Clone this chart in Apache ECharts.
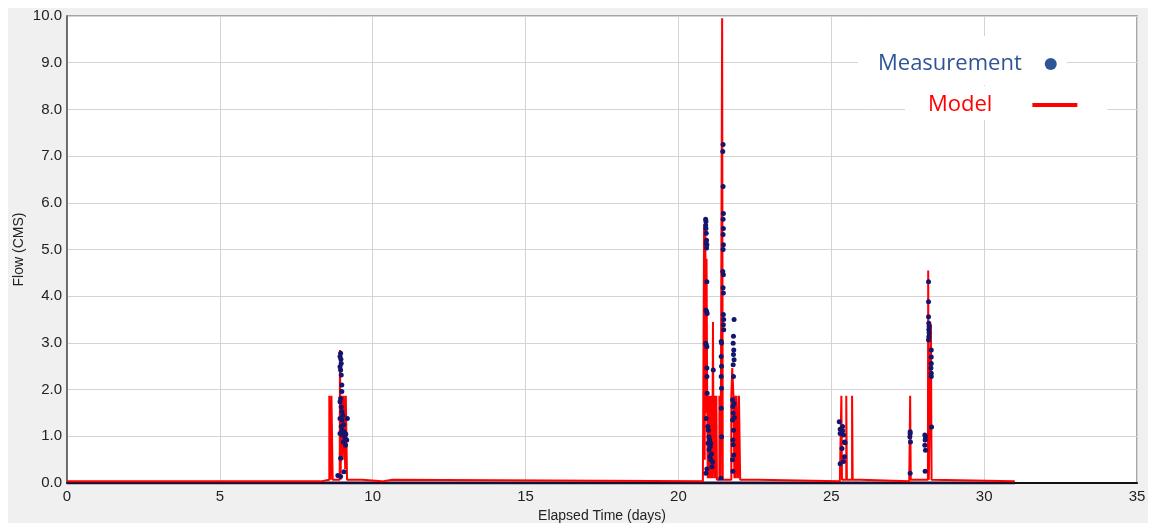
<!DOCTYPE html>
<html>
<head>
<meta charset="utf-8">
<script src="https://cdn.jsdelivr.net/npm/echarts@6/dist/echarts.min.js"></script>
<style>
  html, body { margin: 0; padding: 0; background: #ffffff; width: 1155px; height: 528px; overflow: hidden; }
  #chart { position: absolute; left: 8px; top: 8px; width: 1140px; height: 515px; }
</style>
</head>
<body>
<div id="chart"></div>
<script>
// ---------------- DATA ----------------
const seriesNames = ['Measurement', 'Model'];
const xAxisTitle = 'Elapsed Time (days)';
const yAxisTitle = 'Flow (CMS)';

// Measured flow (days, CMS)
const measT = [
  8.95, 8.93, 8.97, 8.93, 8.95, 8.97, 8.99, 8.95, 8.93, 8.97, 8.99, 8.93, 9.00, 9.17, 8.97, 9.00, 9.06, 8.93, 9.00, 9.08,
  9.15, 9.04, 9.11, 8.95, 9.06, 8.86, 8.95, 8.96, 8.99, 9.02, 9.05, 9.10, 9.12,
  20.89, 20.90, 20.89, 20.90, 20.91, 20.92, 20.91, 20.93, 20.92, 20.93, 20.90, 20.92, 20.94, 20.89, 20.91, 20.93, 20.93, 21.14,
  20.93, 20.94, 20.91, 20.96, 20.98, 21.00, 21.02, 20.97, 21.04, 21.00, 21.03, 21.06, 21.08, 20.90, 20.93, 21.10, 21.05, 21.12,
  21.46, 21.45, 21.46, 21.47, 21.46, 21.47, 21.46, 21.47, 21.46, 21.45, 21.47, 21.46, 21.47, 21.47, 21.48, 21.47, 21.48,
  21.40, 21.41, 21.40, 21.41, 21.40, 21.41, 21.40, 21.41, 21.39,
  21.82, 21.80, 21.79, 21.81, 21.80, 21.82, 21.79, 21.80, 21.77, 21.78, 21.79, 21.77, 21.80, 21.78, 21.79, 21.77, 21.78, 21.82, 21.83, 21.81,
  25.26, 25.37, 25.29, 25.37, 25.29, 25.40, 25.43, 25.45, 25.35, 25.43, 25.29, 25.40,
  27.58, 27.58, 27.57, 27.59, 27.58,
  28.06, 28.08, 28.07, 28.06, 28.08, 28.07,
  28.18, 28.18, 28.18, 28.19, 28.20, 28.19, 28.20, 28.19, 28.18, 28.27, 28.27, 28.27, 28.26, 28.27, 28.27, 28.28
];
const measQ = [
  2.78, 2.71, 2.56, 2.49, 2.42, 2.31, 1.96, 1.81, 1.74, 1.63, 1.53, 1.38, 1.35, 1.38, 1.21, 1.13, 1.10, 1.06, 1.03, 1.01,
  0.92, 0.88, 0.81, 0.53, 0.24, 0.16, 0.14, 2.65, 2.10, 1.45, 1.25, 0.95, 1.05,
  5.65, 5.60, 5.52, 5.45, 5.35, 5.20, 5.13, 5.10, 5.03, 4.31, 3.70, 3.67, 3.63, 2.99, 2.96, 2.92, 2.46, 2.42,
  2.28, 1.92, 1.38, 1.21, 1.13, 0.99, 0.92, 0.85, 0.78, 0.71, 0.56, 0.50, 0.62, 0.21, 0.30, 0.35, 0.85, 0.45,
  7.25, 7.10, 6.35, 5.77, 5.65, 5.45, 5.32, 5.10, 5.00, 4.53, 4.46, 4.18, 4.07, 3.61, 3.50, 3.39, 3.28,
  3.03, 3.00, 2.71, 2.50, 2.28, 2.03, 1.60, 0.99, 0.10,
  3.50, 3.14, 2.99, 2.85, 2.75, 2.64, 2.53, 2.28, 1.78, 1.64, 1.50, 1.35, 1.13, 0.92, 0.82, 0.50, 0.25, 1.70, 1.40, 0.60,
  1.31, 1.21, 1.15, 1.12, 1.06, 1.03, 0.88, 0.86, 0.74, 0.56, 0.41, 0.46,
  1.10, 1.06, 0.99, 0.88, 0.21,
  1.03, 0.99, 0.92, 0.81, 0.70, 0.25,
  4.31, 3.88, 3.56, 3.42, 3.35, 3.28, 3.21, 3.13, 3.06, 2.85, 2.70, 2.56, 2.46, 2.35, 2.28, 1.20
];
// Dense zero-flow measurements over the monitoring period (start, end)
const measZeroT = [0, 31.0];
const measZeroQ = [0, 0];

// Modelled flow (days, CMS)
const modelT = [
  0, 8.30, 8.32, 8.58, 8.58, 8.62, 8.62, 8.65, 8.65, 8.69, 8.69, 8.92, 8.93, 8.95, 8.98, 8.98, 9.02, 9.02, 9.05, 9.05,
  9.10, 9.10, 9.12, 9.12, 9.16, 9.16, 9.65, 9.65, 10.30, 10.30, 10.65, 10.65,
  20.80, 20.82, 20.84, 20.86, 20.88, 20.90, 20.92, 20.94, 20.96, 20.98, 21.00, 21.02, 21.05, 21.07, 21.10, 21.12, 21.13, 21.14,
  21.17, 21.19, 21.22, 21.24, 21.26, 21.26, 21.34, 21.34, 21.38, 21.38, 21.42, 21.43, 21.45, 21.46,
  21.73, 21.73, 21.76, 21.79, 21.80, 21.83, 21.85, 21.88, 21.90, 21.95, 21.95, 21.98, 22.02, 22.02, 22.60, 22.60,
  25.28, 25.30, 25.33, 25.33, 25.35, 25.35, 25.49, 25.49, 25.51, 25.51, 25.68, 25.68, 25.70, 25.70, 25.95, 25.95,
  27.55, 27.57, 27.58, 27.60, 28.16, 28.17, 28.19, 28.25, 28.26, 28.28, 28.30, 28.30, 31.0
];
const modelQ = [
  0.035, 0.035, 0.07, 0.07, 1.87, 1.87, 0.07, 0.07, 1.87, 1.87, 0.07, 0.07, 2.85, 0.07, 0.07, 1.87, 1.87, 0.5, 0.5, 1.87,
  1.87, 0.3, 0.3, 1.87, 1.87, 0.07, 0.07, 0.035, 0.035, 0.07, 0.07, 0.035,
  0.035, 0.07, 5.50, 0.5, 5.35, 1.5, 4.8, 1.87, 0.1, 1.87, 0.1, 1.87, 0.1, 1.87, 0.1, 1.87, 3.45, 1.87,
  0.1, 1.87, 0.1, 1.87, 1.87, 0.07, 0.07, 1.87, 1.87, 0.07, 0.07, 9.95, 0.07, 0.07,
  0.07, 1.87, 2.46, 2.46, 1.87, 0.1, 1.87, 0.1, 1.87, 1.87, 0.1, 1.87, 1.87, 0.07, 0.07, 0.035,
  0.035, 0.07, 0.07, 1.87, 1.87, 0.07, 0.07, 1.87, 1.87, 0.07, 0.07, 1.87, 1.87, 0.07, 0.07, 0.035,
  0.035, 0.07, 1.87, 0.07, 0.07, 4.55, 0.07, 0.07, 3.40, 0.07, 0.07, 0.035, 0.035
];

const xMin = 0, xMax = 35, xStep = 5;
const yMin = 0, yMax = 10, yStep = 1;

// ---------------- CHART ----------------
const zip = (a, b) => a.map((v, i) => [v, b[i]]);
const chart = echarts.init(document.getElementById('chart'), null, { renderer: 'canvas' });

const axisFont = 'Liberation Sans, Arial, sans-serif';
const legendFont = 'Open Sans, Noto Sans, sans-serif';

chart.setOption({
  backgroundColor: '#f0f0f0',
  animation: false,
  grid: {
    left: 59, top: 8, width: 1070, bottom: 40,
    outerBoundsMode: 'none', containLabel: false,
    show: true, backgroundColor: '#ffffff', borderColor: '#8c8c8c', borderWidth: 1.5
  },
  legend: [
    {
      data: [{ name: 'Measurement', icon: 'circle', itemStyle: { color: '#2f5597', opacity: 1 }, textStyle: { color: '#2f5597' } }],
      left: 850, top: 28, orient: 'vertical', align: 'right',
      backgroundColor: '#ffffff', padding: [17, 10, 10, 20],
      itemWidth: 12, itemHeight: 12, selectedMode: false,
      textStyle: { fontFamily: legendFont, fontSize: 22, padding: [0, 18, 0, 0] }
    },
    {
      data: [{ name: 'Model', icon: 'rect', itemStyle: { color: '#ff0000' }, textStyle: { color: '#ff0000' } }],
      left: 897, top: 78, orient: 'vertical', align: 'right',
      backgroundColor: '#ffffff', padding: [8, 30, 4, 23],
      itemWidth: 45, itemHeight: 4, selectedMode: false,
      textStyle: { fontFamily: legendFont, fontSize: 22, padding: [0, 35, 0, 0] }
    }
  ],
  xAxis: {
    type: 'value', min: xMin, max: xMax, interval: xStep,
    name: xAxisTitle, nameLocation: 'middle', nameGap: 25,
    nameTextStyle: { fontFamily: axisFont, fontSize: 14, color: '#222' },
    axisLine: { show: true, onZero: false, lineStyle: { color: '#111', width: 2 } },
    axisTick: { show: false },
    axisLabel: { fontFamily: axisFont, fontSize: 15, color: '#222', margin: 6 },
    splitLine: { show: true, lineStyle: { color: '#d4d4d4', width: 1 } }
  },
  yAxis: {
    type: 'value', min: yMin, max: yMax, interval: yStep,
    name: yAxisTitle, nameLocation: 'middle', nameGap: 41, nameRotate: 90, nameMoveOverlap: false,
    nameTextStyle: { fontFamily: axisFont, fontSize: 14, color: '#222' },
    axisLine: { show: true, lineStyle: { color: '#555', width: 1.5 } },
    axisTick: { show: false },
    axisLabel: { fontFamily: axisFont, fontSize: 15, color: '#222', margin: 5, formatter: v => v.toFixed(1) },
    splitLine: { show: true, lineStyle: { color: '#d4d4d4', width: 1 } }
  },
  series: [
    {
      name: 'Measurement', type: 'scatter', data: zip(measT, measQ),
      symbol: 'circle', symbolSize: 5, itemStyle: { color: '#15156e', opacity: 1 }, z: 5
    },
    {
      name: 'Measurement', type: 'line', data: zip(measZeroT, measZeroQ),
      showSymbol: false, lineStyle: { color: '#111133', width: 3 }, z: 3, silent: true
    },
    {
      name: 'Model', type: 'line', data: zip(modelT, modelQ),
      showSymbol: false, lineStyle: { color: '#ff0000', width: 2 }, itemStyle: { color: '#ff0000' }, z: 4
    }
  ]
});
</script>
</body>
</html>
